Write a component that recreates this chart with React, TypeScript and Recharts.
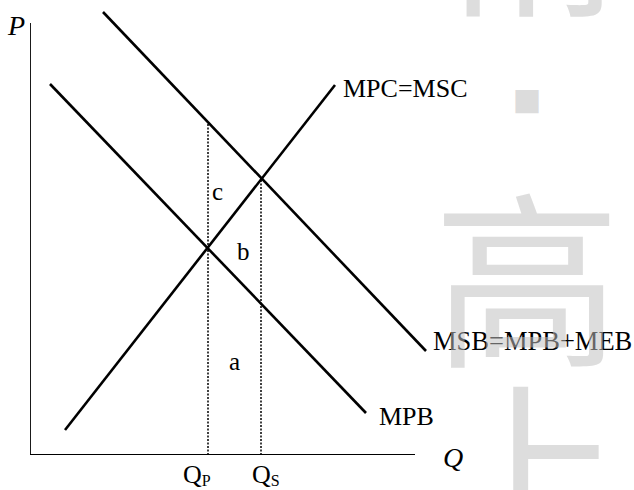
import { LineChart, Line, XAxis, YAxis, ReferenceDot } from 'recharts';

const W = 634;
const H = 490;

// axes (Q, P), in the figure's own units
const P_AXIS = [{ q: 0, p: 0 }, { q: 0, p: 43.2 }];
const Q_AXIS = [{ q: 0, p: 0 }, { q: 38.5, p: 0 }];

// curves, end points
const MSB = [{ q: 7.3, p: 44.3 }, { q: 39.6, p: 10.4 }];
const MPB = [{ q: 2.0, p: 37.1 }, { q: 33.6, p: 4.2 }];
const MPC = [{ q: 3.5, p: 2.5 }, { q: 30.5, p: 37.0 }];

// dotted drops to the quantity axis
const DROP_P = [{ q: 17.8, p: 0 }, { q: 17.8, p: 33.3 }];
const DROP_S = [{ q: 23.1, p: 0 }, { q: 23.1, p: 27.7 }];

// area labels
const AREAS = [
  { name: 'c', q: 18.2, p: 25.5 },
  { name: 'b', q: 20.7, p: 19.5 },
  { name: 'a', q: 19.9, p: 8.5 },
];

const SERIF = "'Liberation Serif', 'Times New Roman', serif";
const INK = '#000';

const last = (arr: { q: number; p: number }[]) => arr[arr.length - 1];

function textShape(
  content: React.ReactNode,
  dx: number,
  dy: number,
  extra: React.SVGProps<SVGTextElement> = {}
) {
  return (props: any) => (
    <text
      x={props.cx + dx}
      y={props.cy + dy}
      fill={INK}
      fontFamily={SERIF}
      fontSize={26}
      {...extra}
    >
      {content}
    </text>
  );
}

function Watermark() {
  const gray = 'rgb(190,190,190)';
  const font = "'Noto Sans CJK SC', sans-serif";
  return (
    <svg
      width={W}
      height={H}
      style={{ position: 'absolute', left: 0, top: 0, pointerEvents: 'none' }}
    >
      <g fill={gray} fillOpacity={0.53} fontFamily={font} textAnchor="middle">
        <text x={527} y={1} fontSize={190}>精</text>
        <text x={527} y={100} fontSize={29} dominantBaseline="central">■</text>
        <text x={527} y={352} fontSize={188}>高</text>
        <text x={527} y={542} fontSize={188}>上</text>
      </g>
    </svg>
  );
}

export default function App() {
  const solid = { stroke: INK, strokeWidth: 2.6, dot: false, activeDot: false, isAnimationActive: false, type: 'linear' as const };
  const axis = { ...solid, strokeWidth: 1.8 };
  const dotted = { ...solid, strokeWidth: 1.5, strokeDasharray: '2 1.5' };

  return (
    <div style={{ position: 'absolute', left: 0, top: 0, width: W, height: H, background: '#fff' }}>
      <LineChart width={W} height={H} margin={{ top: 0, right: 4, bottom: 35, left: 30 }}>
        <XAxis type="number" dataKey="q" domain={[0, 60]} hide allowDataOverflow />
        <YAxis type="number" dataKey="p" domain={[0, 45.5]} hide allowDataOverflow />

        <Line data={P_AXIS} dataKey="p" {...axis} />
        <Line data={Q_AXIS} dataKey="p" {...axis} />
        <Line data={DROP_P} dataKey="p" {...dotted} />
        <Line data={DROP_S} dataKey="p" {...dotted} />
        <Line data={MSB} dataKey="p" {...solid} />
        <Line data={MPB} dataKey="p" {...solid} />
        <Line data={MPC} dataKey="p" {...solid} />

        {/* curve names */}
        <ReferenceDot x={last(MPC).q} y={last(MPC).p} r={0} ifOverflow="visible"
          shape={textShape('MPC=MSC', 8, 12)} />
        <ReferenceDot x={last(MSB).q} y={last(MSB).p} r={0} ifOverflow="visible"
          shape={textShape('MSB=MPB+MEB', 7, -1, { fontSize: 26.5 })} />
        <ReferenceDot x={last(MPB).q} y={last(MPB).p} r={0} ifOverflow="visible"
          shape={textShape('MPB', 13, 12)} />

        {/* axis names */}
        <ReferenceDot x={last(P_AXIS).q} y={last(P_AXIS).p} r={0} ifOverflow="visible"
          shape={textShape('P', -5, 12, { fontStyle: 'italic', fontSize: 28, textAnchor: 'end' })} />
        <ReferenceDot x={last(Q_AXIS).q} y={last(Q_AXIS).p} r={0} ifOverflow="visible"
          shape={textShape('Q', 28, 12, { fontStyle: 'italic', fontSize: 28 })} />

        {/* quantities */}
        <ReferenceDot x={DROP_P[0].q} y={0} r={0} ifOverflow="visible"
          shape={textShape(<><tspan>Q</tspan><tspan fontSize={16} dy={3}>P</tspan></>, -25, 28, { fontSize: 26 })} />
        <ReferenceDot x={DROP_S[0].q} y={0} r={0} ifOverflow="visible"
          shape={textShape(<><tspan>Q</tspan><tspan fontSize={16} dy={3}>S</tspan></>, -9, 28, { fontSize: 26 })} />

        {AREAS.map((a) => (
          <ReferenceDot key={a.name} x={a.q} y={a.p} r={0} ifOverflow="visible"
            shape={textShape(a.name, 0, 0, { fontSize: 25 })} />
        ))}
      </LineChart>
      <Watermark />
    </div>
  );
}
